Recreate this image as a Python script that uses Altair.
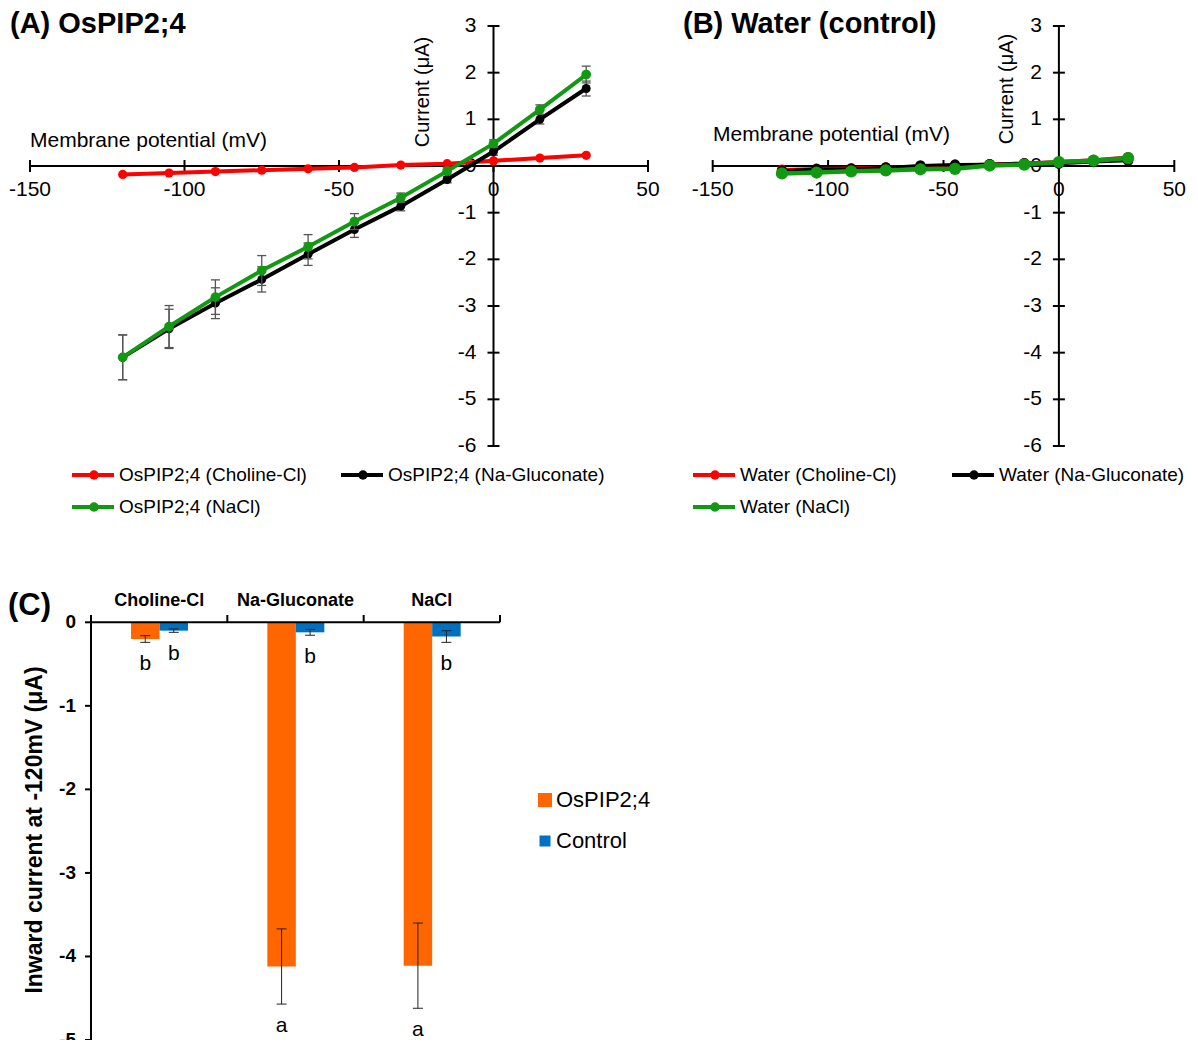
import altair as alt
import pandas as pd

# ---------------- data ----------------
VOLTAGES = [-120, -105, -90, -75, -60, -45, -30, -15, 0, 15, 30]

A_CHOLINE = [-0.18, -0.15, -0.12, -0.09, -0.06, -0.03, 0.02, 0.05, 0.11, 0.17, 0.23]
A_NAGLU = [-4.10, -3.49, -2.94, -2.43, -1.89, -1.36, -0.86, -0.29, 0.31, 1.00, 1.66]
A_NAGLU_ERR = [0.48, 0.42, 0.33, 0.27, 0.24, 0.17, 0.10, 0.07, 0.08, 0.10, 0.16]
A_NACL = [-4.10, -3.44, -2.81, -2.24, -1.73, -1.19, -0.68, -0.11, 0.48, 1.21, 1.96]
A_NACL_ERR = [0.48, 0.45, 0.37, 0.32, 0.26, 0.17, 0.10, 0.07, 0.08, 0.10, 0.18]

B_CHOLINE = [-0.07, -0.05, -0.04, -0.02, 0.00, 0.02, 0.05, 0.07, 0.10, 0.14, 0.20]
B_NAGLU = [-0.10, -0.065, -0.06, -0.03, 0.01, 0.03, 0.04, 0.06, 0.05, 0.085, 0.115]
B_NACL = [-0.16, -0.14, -0.115, -0.095, -0.07, -0.06, 0.01, 0.03, 0.085, 0.115, 0.17]

A_LABELS = ["OsPIP2;4 (Choline-Cl)", "OsPIP2;4 (Na-Gluconate)", "OsPIP2;4 (NaCl)"]
B_LABELS = ["Water (Choline-Cl)", "Water (Na-Gluconate)", "Water (NaCl)"]
SERIES_COLORS = ["#ff0000", "#000000", "#119911"]

X_TICKS = [-150, -100, -50, 0, 50]
Y_TICKS = [-6, -5, -4, -3, -2, -1, 0, 1, 2, 3]

C_CATEGORIES = ["Choline-Cl", "Na-Gluconate", "NaCl"]
C_GROUPS = ["OsPIP2;4", "Control"]
C_COLORS = ["#ff6600", "#0070c0"]
C_OSPIP = [-0.20, -4.12, -4.11]
C_OSPIP_ERR = [0.04, 0.45, 0.51]
C_CONTROL = [-0.10, -0.12, -0.17]
C_CONTROL_ERR = [0.02, 0.035, 0.07]
C_OSPIP_LETTERS = ["b", "a", "a"]
C_CONTROL_LETTERS = ["b", "b", "b"]
C_Y_TICKS = [0, -1, -2, -3, -4, -5]

FONT = "Liberation Sans"
ONE = pd.DataFrame({"k": [0]})


def qscale(domain, rng):
    return alt.Scale(domain=domain, range=rng, nice=False, zero=False)


def text_at(x, y, s, **kw):
    return alt.Chart(ONE).mark_text(font=FONT, color="black", **kw).encode(
        x=alt.value(x), y=alt.value(y), text=alt.value(s))


def iv_panel(xr, yr, vals, errs, widths, sizes, labels, title, title_xy,
             xlab_xy, ylab_xy, leg_xy, leg_dx2, leg_w):
    XS = qscale([X_TICKS[0], X_TICKS[-1]], xr)
    YS = qscale([Y_TICKS[0], Y_TICKS[-1]], yr)
    L = []
    # axis lines
    L.append(alt.Chart(ONE).mark_rule(color="black", strokeWidth=2).encode(
        x=alt.XDatum(X_TICKS[0], type="quantitative", scale=XS, axis=None),
        x2=alt.X2Datum(X_TICKS[-1]),
        y=alt.YDatum(0, type="quantitative", scale=YS, axis=None)))
    L.append(alt.Chart(ONE).mark_rule(color="black", strokeWidth=2).encode(
        x=alt.XDatum(0, type="quantitative", scale=XS, axis=None),
        y=alt.YDatum(Y_TICKS[0], type="quantitative", scale=YS, axis=None),
        y2=alt.Y2Datum(Y_TICKS[-1])))
    xt = pd.DataFrame({"t": X_TICKS})
    yt = pd.DataFrame({"t": Y_TICKS})
    L.append(alt.Chart(xt).mark_tick(orient="vertical", size=12, thickness=2,
                                      color="black", opacity=1).encode(
        x=alt.X("t:Q", scale=XS, axis=None),
        y=alt.YDatum(0, type="quantitative", scale=YS, axis=None)))
    L.append(alt.Chart(yt).mark_tick(orient="horizontal", size=12, thickness=2,
                                      color="black", opacity=1).encode(
        y=alt.Y("t:Q", scale=YS, axis=None),
        x=alt.XDatum(0, type="quantitative", scale=XS, axis=None)))
    L.append(alt.Chart(xt).transform_calculate(lab="'' + datum.t").mark_text(
        font=FONT, fontSize=21, dy=24, color="black", baseline="middle").encode(
        x=alt.X("t:Q", scale=XS, axis=None),
        y=alt.YDatum(0, type="quantitative", scale=YS, axis=None),
        text="lab:N"))
    L.append(alt.Chart(yt).transform_calculate(lab="'' + datum.t").mark_text(
        font=FONT, fontSize=21, dx=-17, align="right", baseline="middle",
        color="black").encode(
        y=alt.Y("t:Q", scale=YS, axis=None),
        x=alt.XDatum(0, type="quantitative", scale=XS, axis=None),
        text="lab:N"))
    # series
    for i in range(3):
        df = pd.DataFrame({"V": VOLTAGES, "I": vals[i]})
        enc_x = alt.X("V:Q", scale=XS, axis=None)
        if errs[i] is not None:
            df["err"] = errs[i]
            eb = alt.Chart(df).transform_calculate(
                lo="datum.I - datum.err", hi="datum.I + datum.err")
            L.append(eb.mark_rule(color="#555555", strokeWidth=1.3).encode(
                x=enc_x, y=alt.Y("lo:Q", scale=YS, axis=None), y2="hi:Q"))
            L.append(eb.transform_fold(["lo", "hi"], as_=["end", "yy"]).mark_tick(
                orient="horizontal", size=9, thickness=1.3, color="#555555",
                opacity=1).encode(x=enc_x, y=alt.Y("yy:Q", scale=YS, axis=None)))
        L.append(alt.Chart(df).mark_line(color=SERIES_COLORS[i],
                                         strokeWidth=widths[i]).encode(
            x=enc_x, y=alt.Y("I:Q", scale=YS, axis=None)))
        L.append(alt.Chart(df).mark_circle(color=SERIES_COLORS[i], size=sizes[i],
                                           opacity=1).encode(
            x=enc_x, y=alt.Y("I:Q", scale=YS, axis=None)))
    # texts
    L.append(text_at(title_xy[0], title_xy[1], title, fontSize=29,
                     fontWeight="bold", align="left", baseline="middle"))
    L.append(text_at(xlab_xy[0], xlab_xy[1], "Membrane potential (mV)",
                     fontSize=21, align="left", baseline="middle"))
    L.append(text_at(ylab_xy[0], ylab_xy[1], "Current (\u03bcA)", fontSize=20,
                     angle=270, align="center", baseline="middle"))
    # legend
    lx0, ly0 = leg_xy
    positions = [(lx0, ly0), (lx0 + leg_dx2, ly0), (lx0, ly0 + 32)]
    for i, (lx, ly) in enumerate(positions):
        L.append(alt.Chart(ONE).mark_rule(color=SERIES_COLORS[i], strokeWidth=leg_w).encode(
            x=alt.value(lx), x2=alt.value(lx + 42), y=alt.value(ly)))
        L.append(alt.Chart(ONE).mark_circle(color=SERIES_COLORS[i], size=90,
                                            opacity=1).encode(
            x=alt.value(lx + 22), y=alt.value(ly)))
        L.append(text_at(lx + 47, ly, labels[i], fontSize=19, align="left",
                         baseline="middle"))
    return L


layers = []
layers += iv_panel([22, 640], [438, 18],
                   [A_CHOLINE, A_NAGLU, A_NACL], [None, A_NAGLU_ERR, A_NACL_ERR],
                   [4, 4, 4], [85, 80, 95], A_LABELS, "(A) OsPIP2;4", (2, 16),
                   (22, 133), (415, 84), (64, 467), 269, 4)
layers += iv_panel([704.7, 1166.3], [438, 18],
                   [B_CHOLINE, B_NAGLU, B_NACL], [None, None, None],
                   [2.5, 3, 4.5], [90, 110, 150], B_LABELS, "(B) Water (control)",
                   (675, 16), (705, 127), (999, 81), (685, 467), 259, 4)

# ---------------- panel C ----------------
cdf = pd.DataFrame({
    "cat": C_CATEGORIES * 2,
    "grp": [C_GROUPS[0]] * 3 + [C_GROUPS[1]] * 3,
    "val": C_OSPIP + C_CONTROL,
    "err": C_OSPIP_ERR + C_CONTROL_ERR,
    "letter": C_OSPIP_LETTERS + C_CONTROL_LETTERS,
})
XC = alt.Scale(domain=C_CATEGORIES, range=[83, 492], paddingInner=0, paddingOuter=0)
XO = alt.Scale(domain=C_GROUPS, range=[40, 97], paddingInner=0, paddingOuter=0)
XO_TEXT = alt.Scale(type="point", domain=C_GROUPS, range=[54.25, 82.75], padding=0)
YC = qscale([-5, 0], [1032, 614.3])
cx = alt.X("cat:N", scale=XC, axis=None)
cxo = alt.XOffset("grp:N", scale=XO)

layers.append(alt.Chart(cdf).mark_bar().encode(
    x=cx, xOffset=cxo,
    y=alt.Y("val:Q", scale=YC, axis=None), y2=alt.Y2Datum(0),
    color=alt.Color("grp:N", scale=alt.Scale(domain=C_GROUPS, range=C_COLORS),
                    legend=None)))
ceb = alt.Chart(cdf).transform_calculate(lo="datum.val - datum.err",
                                         hi="datum.val + datum.err")
layers.append(ceb.mark_rule(color="#222222", strokeWidth=1).encode(
    x=cx, xOffset=cxo, y=alt.Y("lo:Q", scale=YC, axis=None), y2="hi:Q"))
layers.append(ceb.transform_fold(["lo", "hi"], as_=["end", "yy"]).mark_tick(
    orient="horizontal", size=10, thickness=1, color="#222222", opacity=1).encode(
    x=cx, xOffset=cxo, y=alt.Y("yy:Q", scale=YC, axis=None)))
layers.append(ceb.mark_text(font=FONT, fontSize=21, dy=22,
                            baseline="middle", color="black").encode(
    x=cx, xOffset=alt.XOffset("grp:N", scale=XO_TEXT),
    y=alt.Y("lo:Q", scale=YC, axis=None), text="letter:N"))

# axes of C
layers.append(alt.Chart(ONE).mark_rule(color="black", strokeWidth=2).encode(
    x=alt.value(83), x2=alt.value(492),
    y=alt.YDatum(0, type="quantitative", scale=YC, axis=None)))
layers.append(alt.Chart(ONE).mark_rule(color="black", strokeWidth=2).encode(
    x=alt.value(83),
    y=alt.YDatum(C_Y_TICKS[0], type="quantitative", scale=YC, axis=None),
    y2=alt.Y2Datum(C_Y_TICKS[-1])))
catdf = pd.DataFrame({"cat": C_CATEGORIES})
layers.append(alt.Chart(catdf).mark_rule(color="black", strokeWidth=2).encode(
    x=alt.X("cat:N", scale=XC, axis=None, bandPosition=0),
    y=alt.YDatum(0, type="quantitative", scale=YC, axis=None),
    y2=alt.value(607)))
layers.append(alt.Chart(ONE).mark_rule(color="black", strokeWidth=2).encode(
    x=alt.value(492),
    y=alt.YDatum(0, type="quantitative", scale=YC, axis=None),
    y2=alt.value(607)))
layers.append(alt.Chart(catdf).mark_text(font=FONT, fontSize=18, fontWeight="bold",
                                         baseline="middle", color="black").encode(
    x=cx, y=alt.value(593), text="cat:N"))
cyt = pd.DataFrame({"t": C_Y_TICKS})
layers.append(alt.Chart(cyt).mark_rule(color="black", strokeWidth=2).encode(
    x=alt.value(77), x2=alt.value(83), y=alt.Y("t:Q", scale=YC, axis=None)))
layers.append(alt.Chart(cyt).transform_calculate(lab="'' + datum.t").mark_text(
    font=FONT, fontSize=19, fontWeight="bold", align="right", baseline="middle",
    color="black").encode(
    x=alt.value(68), y=alt.Y("t:Q", scale=YC, axis=None), text="lab:N"))
layers.append(text_at(27, 822, "Inward current at -120mV (\u03bcA)", fontSize=23,
                      fontWeight="bold", angle=270, align="center", baseline="middle"))
layers.append(text_at(0, 598, "(C)", fontSize=31, fontWeight="bold", align="left",
                      baseline="middle"))
# legend C
for i, (ly, sz) in enumerate([(792, 196), (833, 121)]):
    layers.append(alt.Chart(ONE).mark_square(color=C_COLORS[i], size=sz, opacity=1).encode(
        x=alt.value(537), y=alt.value(ly)))
    layers.append(text_at(548, ly, C_GROUPS[i], fontSize=22, align="left",
                          baseline="middle"))

chart = alt.layer(*layers).resolve_scale(
    x="independent", y="independent", color="independent", xOffset="independent"
).properties(
    width=1182, height=1032, padding=0, autosize=alt.AutoSizeParams(type="none")
).configure(font=FONT, view=alt.ViewConfig(stroke=None))

chart.save("out.html", embed_options={"renderer": "svg", "actions": False})
